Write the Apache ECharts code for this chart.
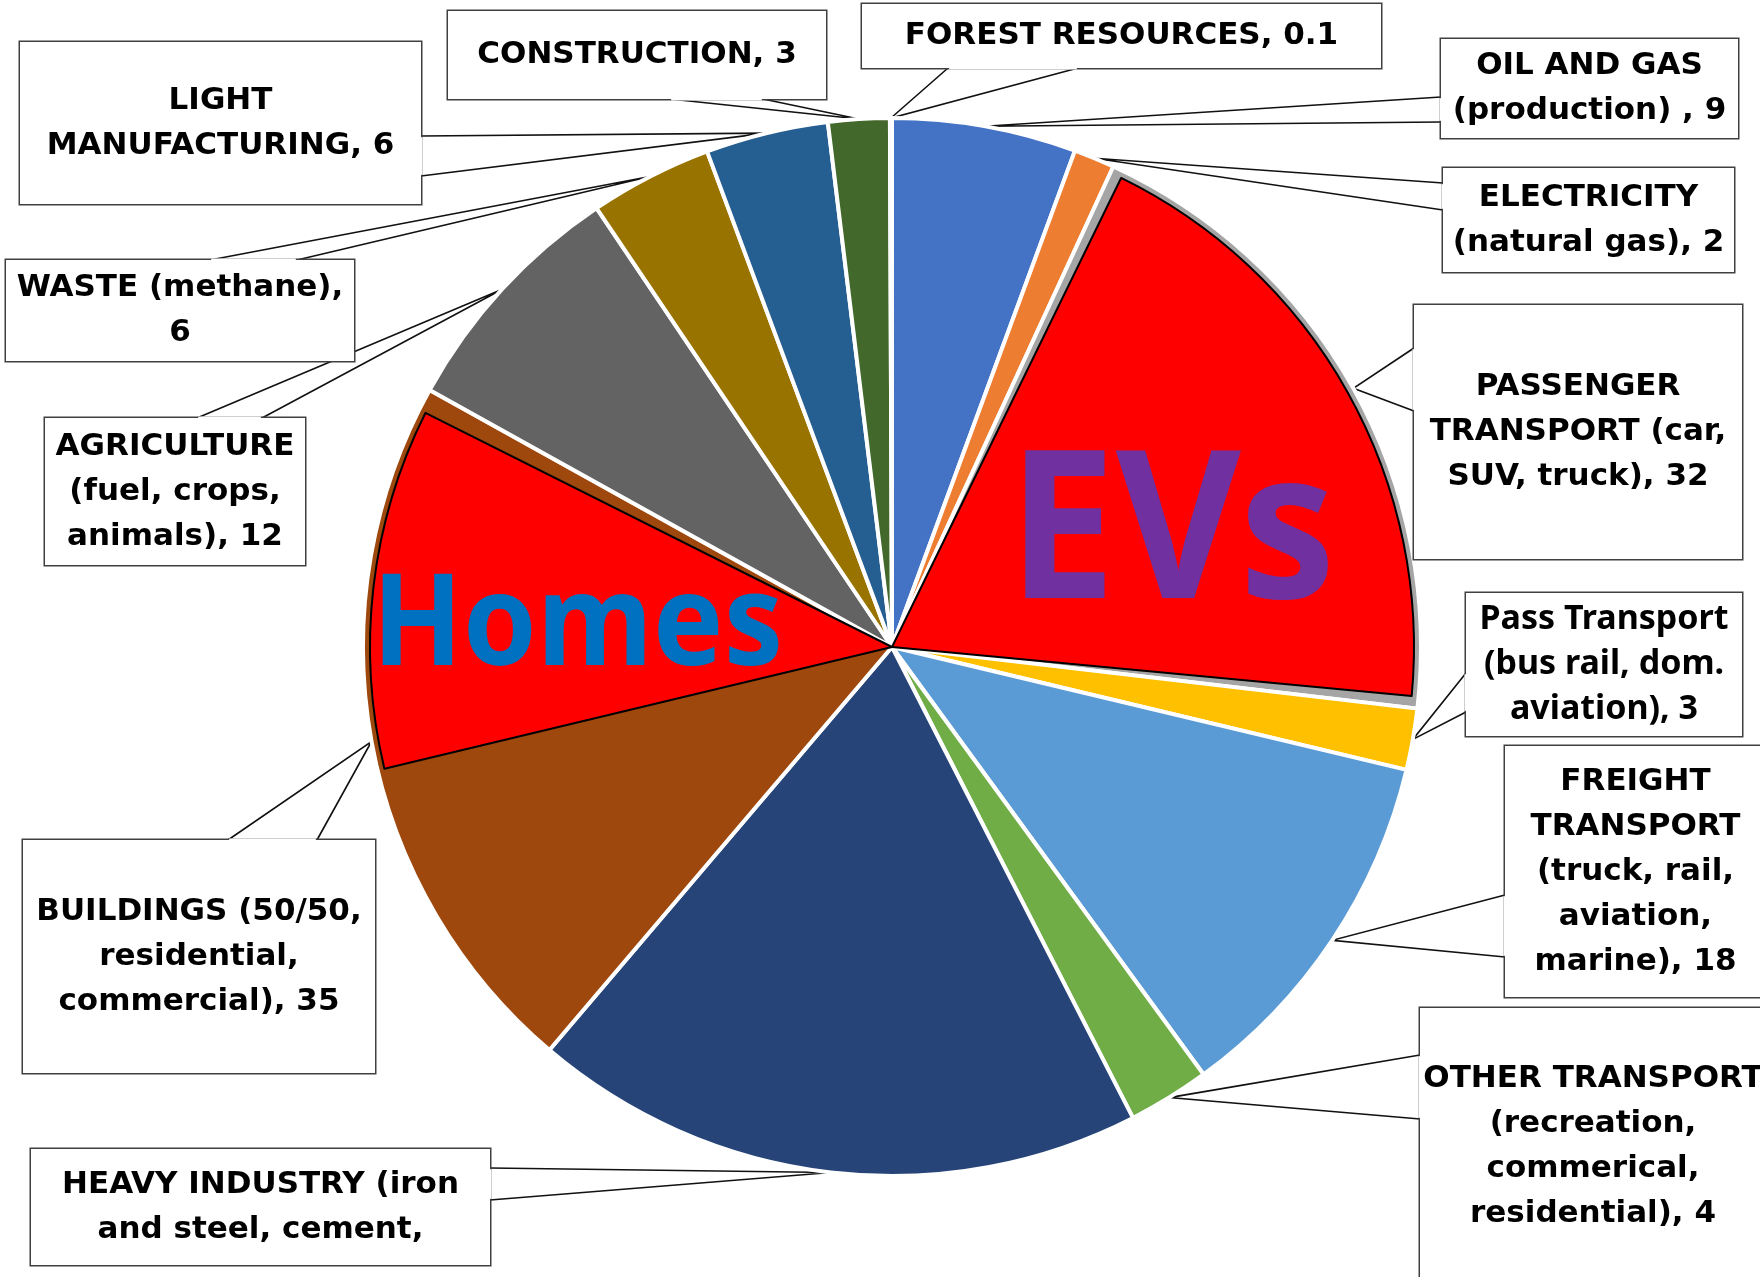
<!DOCTYPE html>
<html>
<head>
<meta charset="utf-8">
<script src="https://cdn.jsdelivr.net/npm/echarts@6/dist/echarts.min.js"></script>
<style>
  html, body { margin: 0; padding: 0; background: #ffffff; }
  #main { width: 1760px; height: 1277px; }
</style>
</head>
<body>
<div id="main"></div>
<script>
// ---------------- DATA ----------------
const categories = [
  'OIL AND GAS (production)',
  'ELECTRICITY (natural gas)',
  'PASSENGER TRANSPORT (car, SUV, truck)',
  'Pass Transport (bus rail, dom. aviation)',
  'FREIGHT TRANSPORT (truck, rail, aviation, marine)',
  'OTHER TRANSPORT (recreation, commerical, residential)',
  'HEAVY INDUSTRY (iron and steel, cement,',
  'BUILDINGS (50/50, residential, commercial)',
  'AGRICULTURE (fuel, crops, animals)',
  'WASTE (methane)',
  'LIGHT MANUFACTURING',
  'CONSTRUCTION',
  'FOREST RESOURCES'
];
const values = [9, 2, 32, 3, 18, 4, 30, 35, 12, 6, 6, 3, 0.1];
const labelFormats = [
  'OIL AND GAS\n(production) , {v}',
  'ELECTRICITY\n(natural gas), {v}',
  'PASSENGER\nTRANSPORT (car,\nSUV, truck), {v}',
  'Pass Transport\n(bus rail, dom.\naviation), {v}',
  'FREIGHT\nTRANSPORT\n(truck, rail,\naviation,\nmarine), {v}',
  'OTHER TRANSPORT\n(recreation,\ncommerical,\nresidential), {v}',
  'HEAVY INDUSTRY (iron\nand steel, cement,',
  'BUILDINGS (50/50,\nresidential,\ncommercial), {v}',
  'AGRICULTURE\n(fuel, crops,\nanimals), {v}',
  'WASTE (methane),\n{v}',
  'LIGHT\nMANUFACTURING, {v}',
  'CONSTRUCTION, {v}',
  'FOREST RESOURCES, {v}'
];
// Buildings slice: part shown brown, part highlighted as "Homes", thin remainder
const homesSplit = [15.5, 19, 0.5];
const annotations = ['EVs', 'Homes'];

// ---------------- STYLE / LAYOUT ----------------
const sliceColors = ['#4472C4', '#ED7D31', '#A5A5A5', '#FFC000', '#5B9BD5', '#70AD47',
  '#264478', '#9E480E', '#636363', '#997300', '#255E91', '#43682B', '#698ED0'];
// callout boxes: [x0, y0, x1, y1, side of wedge, wedge start, wedge end]
const calloutBoxes = [
  [1441, 39, 1738, 138, 'left', 97, 122],
  [1443, 168, 1734, 272, 'left', 183, 210],
  [1414, 305, 1742, 559, 'left', 348, 411],
  [1466, 593, 1742, 736, 'left', 673, 712],
  [1505, 746, 1766, 997, 'left', 895, 957],
  [1420, 1008, 1766, 1285, 'left', 1055, 1119],
  [31, 1149, 490, 1265, 'right', 1168, 1200],
  [23, 840, 375, 1073, 'top', 228, 317],
  [45, 418, 305, 565, 'top', 197, 262],
  [6, 260, 354, 361, 'top', 210, 297],
  [20, 42, 421, 204, 'right', 136, 176],
  [448, 11, 826, 99, 'bottom', 670, 763],
  [862, 4, 1381, 68, 'bottom', 948, 1078]
];
const FONT = '"DejaVu Sans", sans-serif';
const FONT_SIZE = 31;
const LINE_H = 45;
const PIE_CENTER = [892, 647];
const PIE_R = 529;

function wedgeBase(b) {
  const [x0, y0, x1, y1, side, a, c] = b;
  if (side === 'left') return [[x0, a], [x0, c]];
  if (side === 'right') return [[x1, a], [x1, c]];
  if (side === 'top') return [[a, y0], [c, y0]];
  return [[a, y1], [c, y1]];
}

const baseData = categories.map((name, i) => {
  const b = calloutBoxes[i];
  const nLines = labelFormats[i].split('\n').length;
  const padV = Math.max(2, ((b[3] - b[1]) - nLines * LINE_H) / 2);
  const padH = 4;
  const lbl = {
    width: (b[2] - b[0]) - 2 * padH,
    padding: [padV, padH, padV, padH]
  };
  if (i === 3) { lbl.fontFamily = '"Noto Sans", sans-serif'; lbl.fontSize = 34; }
  return { name: name, value: values[i], itemStyle: { color: sliceColors[i] }, label: lbl };
});

const gapStyle = { color: 'rgba(0,0,0,0)', borderWidth: 0 };
const redStyle = { color: '#FF0000', borderColor: '#000000', borderWidth: 2 };
const sum = (arr) => arr.reduce((s, v) => s + v, 0);
const overlayData = [
  { value: values[0] + values[1], itemStyle: gapStyle },
  { value: values[2], itemStyle: redStyle },
  { value: sum(values.slice(3, 7)) + homesSplit[0], itemStyle: gapStyle },
  { value: homesSplit[1], itemStyle: redStyle },
  { value: homesSplit[2] + sum(values.slice(8)), itemStyle: gapStyle }
];

const graphics = [];
calloutBoxes.forEach((b) => {
  const [p, q] = wedgeBase(b);
  const vertical = (b[4] === 'left' || b[4] === 'right');
  graphics.push({
    type: 'line', z: 100, silent: true,
    shape: vertical ? { x1: p[0], y1: p[1] + 1.2, x2: q[0], y2: q[1] - 1.2 }
                    : { x1: p[0] + 1.2, y1: p[1], x2: q[0] - 1.2, y2: q[1] },
    style: { stroke: '#ffffff', lineWidth: 3 }
  });
});
graphics.push({
  type: 'text', z: 120, silent: true, x: 1008, y: 539, scaleX: 0.935, scaleY: 1,
  style: { text: annotations[0], x: 0, y: 0, fill: '#7030A0', font: 'bold 206px "Noto Sans", sans-serif',
           align: 'left', verticalAlign: 'middle' }
});
graphics.push({
  type: 'text', z: 120, silent: true, x: 372, y: 629, scaleX: 0.935, scaleY: 1,
  style: { text: annotations[1], x: 0, y: 0, fill: '#0070C0', font: 'bold 127px "Noto Sans", sans-serif',
           align: 'left', verticalAlign: 'middle' }
});

const chart = echarts.init(document.getElementById('main'), null, { renderer: 'canvas' });
chart.setOption({
  animation: false,
  backgroundColor: '#ffffff',
  series: [
    {
      type: 'pie',
      center: PIE_CENTER,
      radius: PIE_R,
      startAngle: 90,
      clockwise: true,
      avoidLabelOverlap: false,
      emphasis: { disabled: true },
      itemStyle: { borderColor: '#ffffff', borderWidth: 4 },
      label: {
        show: true,
        position: 'outside',
        color: '#000000',
        fontFamily: FONT,
        fontWeight: 'bold',
        fontSize: FONT_SIZE,
        lineHeight: LINE_H,
        align: 'center',
        overflow: 'none',
        backgroundColor: '#ffffff',
        borderColor: '#404040',
        borderWidth: 1.5,
        formatter: (p) => labelFormats[p.dataIndex].replace('{v}', String(values[p.dataIndex]))
      },
      labelLine: { show: true, length: 10, length2: 10, smooth: false,
                   lineStyle: { color: '#111111', width: 1.6 } },
      labelLayout: function (p) {
        const b = calloutBoxes[p.dataIndex];
        const res = { x: (b[0] + b[2]) / 2, y: (b[1] + b[3]) / 2, align: 'center', verticalAlign: 'middle' };
        const pts = p.labelLinePoints;
        if (pts && pts.length) {
          const base = wedgeBase(b);
          res.labelLinePoints = [base[0], pts[0], base[1]];
        }
        return res;
      },
      data: baseData
    },
    {
      type: 'pie',
      center: PIE_CENTER,
      radius: PIE_R - 7,
      startAngle: 90,
      clockwise: true,
      padAngle: 2.6,
      silent: true,
      emphasis: { disabled: true },
      label: { show: false },
      labelLine: { show: false },
      data: overlayData,
      z: 3
    }
  ],
  graphic: graphics
});
</script>
</body>
</html>
